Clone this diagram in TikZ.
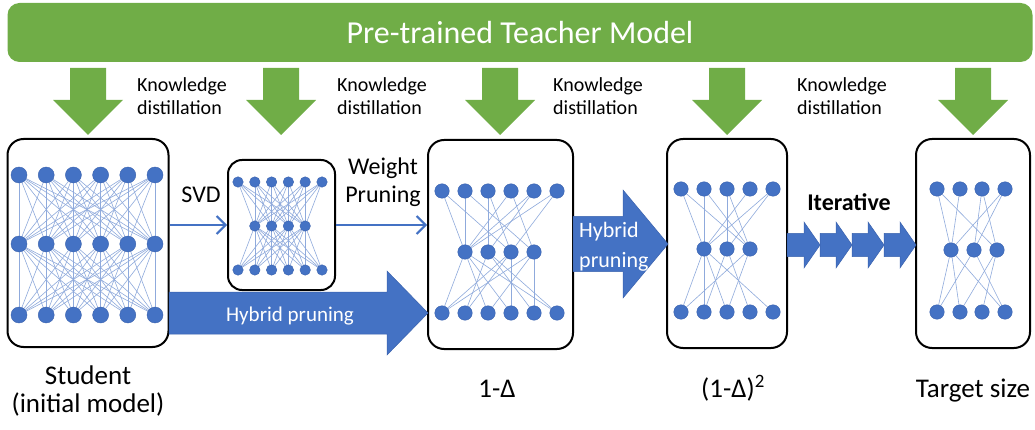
\documentclass[tikz,border=0pt]{standalone}
\usepackage{fontspec}
\setmainfont{Carlito}
\usetikzlibrary{arrows.meta}
\definecolor{tgreen}{HTML}{70AD47}
\definecolor{nblue}{HTML}{4472C4}
\definecolor{nedge}{HTML}{3A62AE}
\definecolor{lblue}{HTML}{8FAADC}
\pgfdeclarelayer{boxes}\pgfdeclarelayer{edges}
\pgfsetlayers{boxes,edges,main}
% right-pointing block arrow: tail x, tip x, centre y, shaft half, head half, head length, style
\newcommand\blkR[7]{\path[#7] (#1,{#3-#4}) -- ({#2-#6},{#3-#4}) -- ({#2-#6},{#3-#5}) -- (#2,#3) -- ({#2-#6},{#3+#5}) -- ({#2-#6},{#3+#4}) -- (#1,{#3+#4}) -- cycle;}
% down-pointing block arrow: centre x, top y, tip y, shaft half, head half, head length, style
\newcommand\blkD[7]{\path[#7] ({#1-#4},#2) -- ({#1+#4},#2) -- ({#1+#4},{#3-#6}) -- ({#1+#5},{#3-#6}) -- (#1,#3) -- ({#1-#5},{#3-#6}) -- ({#1-#4},{#3-#6}) -- cycle;}
\newcommand\neuronrow[4]{\foreach \xx [count=\ii] in {#3} {\node[neuron, minimum size=#4] (#1\ii) at (\xx,#2) {};}}
\begin{document}
\begin{tikzpicture}[x=1pt,y=-1pt,
  neuron/.style={circle, fill=nblue, draw=nedge, line width=0.4pt, inner sep=0pt},
  conn/.style={draw=lblue, line width=0.6pt},
  modelbox/.style={draw=black, line width=2pt, rounded corners=16pt, fill=white, inner sep=0pt},
  thinarrow/.style={draw=nblue, line width=2pt, -{Straight Barb[length=9pt, width=18pt]}},
  teacher/.style={fill=tgreen, rounded corners=12pt, minimum width=1025pt, minimum height=59pt, text=white, inner sep=0pt, font=\fontsize{32}{38}\selectfont},
  kd/.style={inner sep=0pt, font=\fontsize{20}{24}\selectfont},
  lbl/.style={inner sep=0pt, font=\fontsize{27}{32}\selectfont},
  mid/.style={inner sep=0pt, font=\fontsize{24}{28}\selectfont},
  wlbl/.style={inner sep=0pt, text=white, font=\fontsize{22}{26}\selectfont},
  greenarrow/.style={fill=tgreen},
  bluearrow/.style={fill=nblue, draw=nedge, line width=0.5pt}
]
\useasboundingbox (0,0) rectangle (1035,430);

% teacher
\node[teacher] (teacher) at (520,32.5) {Pre-trained Teacher Model};

% model boxes
\begin{pgfonlayer}{boxes}
\node[modelbox, minimum width=161pt, minimum height=208pt] (student) at (88,243) {};
\node[modelbox, minimum width=107pt, minimum height=130pt, rounded corners=14pt] (svd) at (281.5,225) {};
\node[modelbox, minimum width=145pt, minimum height=209pt] (d1) at (500.5,244.5) {};
\node[modelbox, minimum width=120pt, minimum height=209pt] (d2) at (727,243.5) {};
\node[modelbox, minimum width=114pt, minimum height=209pt] (tg) at (973,243.5) {};
\end{pgfonlayer}

% green distillation arrows
\foreach \cx in {88,281,500,727,973} {\blkD{\cx}{68}{135}{18}{35}{35}{greenarrow}}
\foreach \x [count=\i] in {137,337,553,797} {
  \node[kd, anchor=base west] (kdA\i) at (\x,92) {Knowledge};
  \node[kd, anchor=base west] (kdB\i) at (\x,115) {distillation};
}

% student network
\neuronrow{sT}{175}{19,46.2,73.4,100.6,127.8,155}{16pt}
\neuronrow{sM}{244}{19,46.2,73.4,100.6,127.8,155}{16pt}
\neuronrow{sB}{315}{19,46.2,73.4,100.6,127.8,155}{16pt}
% svd network
\neuronrow{vT}{182}{238,254.8,271.6,288.4,305.2,322}{10.5pt}
\neuronrow{vM}{226}{254.8,271.6,288.4,305.2}{10.5pt}
\neuronrow{vB}{270}{238,254.8,271.6,288.4,305.2,322}{10.5pt}
% 1-Delta network
\neuronrow{aT}{191}{442,465,488,511,534,557}{14.5pt}
\neuronrow{aM}{252}{465,488,511,534}{14.5pt}
\neuronrow{aB}{313}{442,465,488,511,534,557}{14.5pt}
% (1-Delta)^2 network
\neuronrow{bT}{189}{681,704,727,750,773}{14.5pt}
\neuronrow{bM}{249}{704,727,750}{14.5pt}
\neuronrow{bB}{312}{681,704,727,750,773}{14.5pt}
% target network
\neuronrow{cT}{189}{937,960,982,1005}{14.5pt}
\neuronrow{cM}{250}{951,974,997}{14.5pt}
\neuronrow{cB}{312}{937,960,982,1005}{14.5pt}

\begin{pgfonlayer}{edges}
\foreach \a in {1,...,6} {\foreach \b in {1,...,6} {
  \draw[conn] (sT\a) -- (sM\b); \draw[conn] (sM\b) -- (sB\a);}}
\foreach \a in {1,...,6} {\foreach \b in {1,...,4} {
  \draw[conn] (vT\a) -- (vM\b); \draw[conn] (vM\b) -- (vB\a);}}
\foreach \a/\b in {1/1,1/3,2/1,2/4,3/2,3/3,4/1,4/4,5/1,5/2,6/1,6/3} {\draw[conn] (aT\a) -- (aM\b);}
\foreach \a/\b in {1/1,1/3,1/4,1/6,2/2,2/5,2/6,3/2,3/4,3/1,4/1,4/3,4/5} {\draw[conn] (aM\a) -- (aB\b);}
\foreach \a/\b in {1/1,1/3,2/1,2/3,3/2,3/3,4/1,5/1,5/2} {\draw[conn] (bT\a) -- (bM\b);}
\foreach \a/\b in {1/1,1/2,1/3,1/5,2/2,2/4,3/1,3/3} {\draw[conn] (bM\a) -- (bB\b);}
\foreach \a/\b in {1/1,1/3,2/1,3/2,3/3,4/1,4/2} {\draw[conn] (cT\a) -- (cM\b);}
\foreach \a/\b in {1/1,1/2,1/4,2/4,2/1,3/2,3/3} {\draw[conn] (cM\a) -- (cB\b);}
\end{pgfonlayer}

% thin arrows SVD / weight pruning
\draw[thinarrow] (student.east |- svd.west) -- (svd.west);
\draw[thinarrow] (svd.east) -- (d1.west |- svd.east);
\node[mid, anchor=base] (svdlbl) at (201,203) {SVD};
\node[mid, anchor=base] (wp1) at (383,175) {Weight};
\node[mid, anchor=base] (wp2) at (383,203) {Pruning};

% hybrid pruning arrows
\blkR{169}{428}{313}{21}{42}{41}{bluearrow}
\node[wlbl, anchor=base, font=\fontsize{21}{25}\selectfont] (hp1) at (290,321) {Hybrid pruning};
\blkR{573}{668}{244}{27.5}{54}{45}{bluearrow}
\node[wlbl, anchor=base west] (hp2a) at (579,238) {Hybrid};
\node[wlbl, anchor=base west] (hp2b) at (579,267) {pruning};

% iterative arrows
\blkR{787}{820}{245}{11.5}{23}{16}{bluearrow}
\blkR{820}{852}{245}{11.5}{23}{16}{bluearrow}
\blkR{852}{884}{245}{11.5}{23}{16}{bluearrow}
\blkR{884}{916}{245}{11.5}{23}{16}{bluearrow}
\node[mid, anchor=base, font=\fontsize{24}{28}\selectfont\bfseries] (iter) at (849,211) {Iterative};

% bottom labels
\node[lbl, anchor=base] (st1) at (88,384) {Student};
\node[lbl, anchor=base] (st2) at (88,412) {(initial model)};
\node[lbl, anchor=base] (l1) at (497,397) {1-Δ};
\node[lbl, anchor=base] (l2) at (733,397) {(1-Δ)\textsuperscript{2}};
\node[lbl, anchor=base] (l3) at (973,397) {Target size};
\end{tikzpicture}
\end{document}
